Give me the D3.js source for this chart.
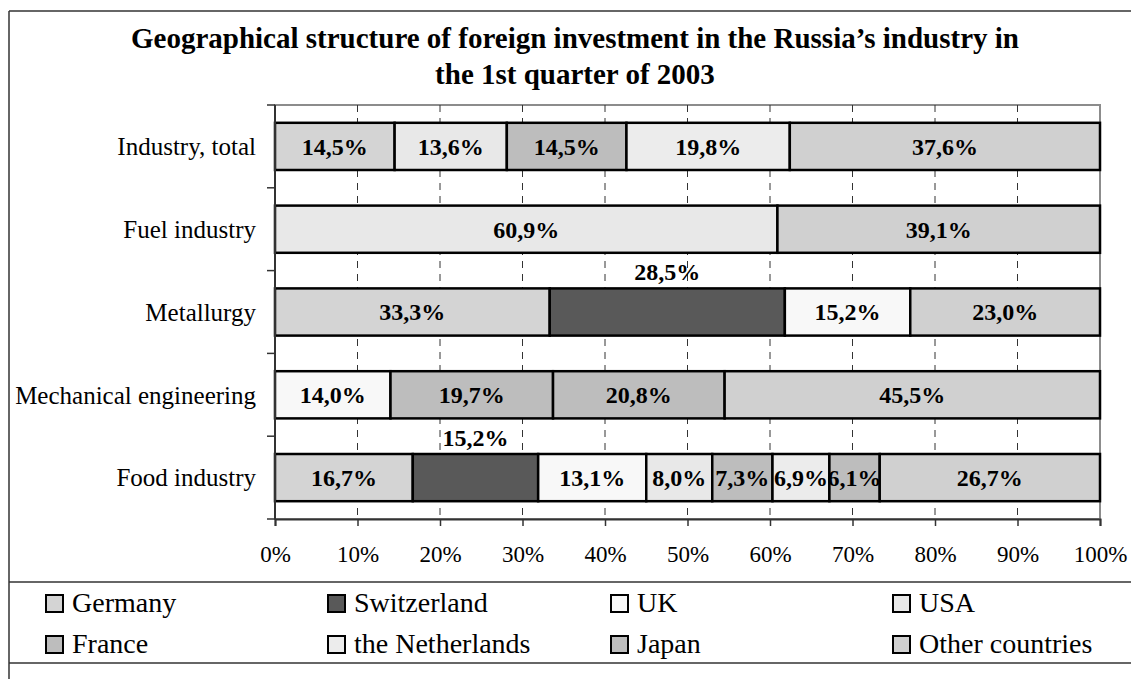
<!DOCTYPE html>
<html lang="en">
<head>
    <meta charset="UTF-8">
    <title>Geographical structure of foreign investment</title>
    <script src="https://cdnjs.cloudflare.com/ajax/libs/d3/7.8.5/d3.min.js"></script>
    <style>
        html, body {
            margin: 0;
            padding: 0;
            background: #fff;
        }
        svg text {
            font-family: "Liberation Serif", "Times New Roman", serif;
            fill: #000;
        }
        .title { font-weight: bold; font-size: 29px; text-anchor: middle; }
        .cat-label { font-size: 25px; text-anchor: end; }
        .tick-label { font-size: 23px; text-anchor: middle; }
        .bar-label { font-weight: bold; font-size: 24px; text-anchor: middle; }
        .legend-label { font-size: 28px; }
    </style>
</head>
<body>
    <div id="chart"></div>
    <script>
        // data
        const categories = ["Industry, total", "Fuel industry", "Metallurgy", "Mechanical engineering", "Food industry"];
        const countries = ["Germany", "Switzerland", "UK", "USA", "France", "the Netherlands", "Japan", "Other countries"];
        const germany     = [14.5, 0,    33.3, 0,    16.7];
        const switzerland = [0,    0,    28.5, 0,    15.2];
        const uk          = [0,    0,    15.2, 14.0, 13.1];
        const usa         = [13.6, 60.9, 0,    0,    8.0];
        const france      = [14.5, 0,    0,    19.7, 7.3];
        const netherlands = [19.8, 0,    0,    0,    6.9];
        const japan       = [0,    0,    0,    20.8, 6.1];
        const other       = [37.6, 39.1, 23.0, 45.5, 26.7];
        const xTicks = [0, 10, 20, 30, 40, 50, 60, 70, 80, 90, 100];

        const seriesValues = [germany, switzerland, uk, usa, france, netherlands, japan, other];
        const colors = ["#d4d4d4", "#595959", "#f8f8f8", "#e8e8e8", "#bdbdbd", "#ececec", "#bdbdbd", "#d0d0d0"];

        const width = 1131, height = 679;
        const plot = { left: 275, right: 1100, top: 105, bottom: 519 };

        const svg = d3.select("#chart").append("svg")
            .attr("width", width)
            .attr("height", height);

        svg.append("rect").attr("width", width).attr("height", height).attr("fill", "#fff");

        // outer frame + legend separators
        const frame = svg.append("g").attr("stroke", "#333").attr("stroke-width", 1.5).attr("fill", "none");
        frame.append("line").attr("x1", 9).attr("x2", width).attr("y1", 11).attr("y2", 11);
        frame.append("line").attr("x1", 9).attr("x2", 9).attr("y1", 11).attr("y2", height);
        frame.append("line").attr("x1", 9).attr("x2", width).attr("y1", 582).attr("y2", 582);
        frame.append("line").attr("x1", 9).attr("x2", width).attr("y1", 663).attr("y2", 663);

        // title
        svg.append("text").attr("class", "title").attr("x", 575).attr("y", 48)
            .text("Geographical structure of foreign investment in the Russia\u2019s industry in");
        svg.append("text").attr("class", "title").attr("x", 575).attr("y", 84)
            .text("the 1st quarter of 2003");

        const x = d3.scaleLinear().domain([0, 100]).range([plot.left, plot.right]);
        const y = d3.scaleBand().domain(categories).range([plot.top, plot.bottom])
            .paddingInner(0.43).paddingOuter(0.215);

        // plot border (top/right gray)
        svg.append("rect")
            .attr("x", plot.left).attr("y", plot.top)
            .attr("width", plot.right - plot.left).attr("height", plot.bottom - plot.top)
            .attr("fill", "#fff").attr("stroke", "#8c8c8c").attr("stroke-width", 2);

        // dashed gridlines
        svg.append("g").selectAll("line")
            .data(xTicks.slice(1, -1))
            .join("line")
            .attr("x1", d => x(d)).attr("x2", d => x(d))
            .attr("y1", plot.top).attr("y2", plot.bottom)
            .attr("stroke", "#333").attr("stroke-width", 1)
            .attr("stroke-dasharray", "7,6");

        // stacked bars
        const rows = categories.map((c, i) => {
            const row = { category: c };
            countries.forEach((k, j) => row[k] = seriesValues[j][i]);
            return row;
        });
        const stacked = d3.stack().keys(countries)(rows);

        const layers = svg.append("g").selectAll("g")
            .data(stacked)
            .join("g")
            .attr("fill", (d, i) => colors[i]);

        layers.selectAll("rect")
            .data(d => d.filter(s => s[1] - s[0] > 0))
            .join("rect")
            .attr("x", d => x(d[0]))
            .attr("y", d => y(d.data.category))
            .attr("width", d => x(d[1]) - x(d[0]))
            .attr("height", y.bandwidth())
            .attr("stroke", "#000")
            .attr("stroke-width", 2.5);

        // value labels (dark segments get their label above the bar)
        layers.each(function (layer, i) {
            d3.select(this).selectAll("text")
                .data(layer.filter(s => s[1] - s[0] > 0))
                .join("text")
                .attr("class", "bar-label")
                .attr("x", d => x((d[0] + d[1]) / 2))
                .attr("y", d => i === 1 ? y(d.data.category) - 8 : y(d.data.category) + y.bandwidth() / 2)
                .attr("dy", i === 1 ? 0 : "0.35em")
                .text(d => (d[1] - d[0]).toFixed(1).replace(".", ",") + "%");
        });

        // left axis
        svg.append("line")
            .attr("x1", plot.left).attr("x2", plot.left)
            .attr("y1", plot.top).attr("y2", plot.bottom)
            .attr("stroke", "#333").attr("stroke-width", 2);
        const yBounds = categories.map(c => y(c) - y.step() * y.paddingInner() / 2);
        yBounds.push(plot.bottom);
        svg.append("g").selectAll("line")
            .data(yBounds)
            .join("line")
            .attr("x1", plot.left - 8).attr("x2", plot.left)
            .attr("y1", d => d).attr("y2", d => d)
            .attr("stroke", "#333").attr("stroke-width", 1.5);

        svg.append("g").selectAll("text")
            .data(categories)
            .join("text")
            .attr("class", "cat-label")
            .attr("x", 256)
            .attr("y", d => y(d) + y.bandwidth() / 2)
            .attr("dy", "0.35em")
            .text(d => d);

        // bottom axis
        const xAxis = svg.append("g")
            .attr("transform", `translate(0,${plot.bottom})`)
            .call(d3.axisBottom(x).tickValues(xTicks).tickSize(7).tickFormat(d => d + "%"));
        xAxis.select(".domain").attr("stroke", "#333").attr("stroke-width", 2);
        xAxis.selectAll(".tick line").attr("stroke", "#333").attr("stroke-width", 1.5);
        xAxis.selectAll(".tick text")
            .attr("class", "tick-label")
            .attr("font-size", null).attr("font-family", null)
            .attr("y", 43).attr("dy", 0);

        // legend
        const legendX = [46, 328, 611, 893];
        const legendY = [612, 653];
        const legend = svg.append("g").selectAll("g")
            .data(countries)
            .join("g")
            .attr("transform", (d, i) => `translate(${legendX[i % 4]},${legendY[Math.floor(i / 4)]})`);
        legend.append("rect")
            .attr("x", 0).attr("y", -17)
            .attr("width", 17).attr("height", 17)
            .attr("fill", (d, i) => colors[i])
            .attr("stroke", "#000").attr("stroke-width", 2);
        legend.append("text")
            .attr("class", "legend-label")
            .attr("x", 26).attr("y", 0)
            .text(d => d);
    </script>
</body>
</html>
